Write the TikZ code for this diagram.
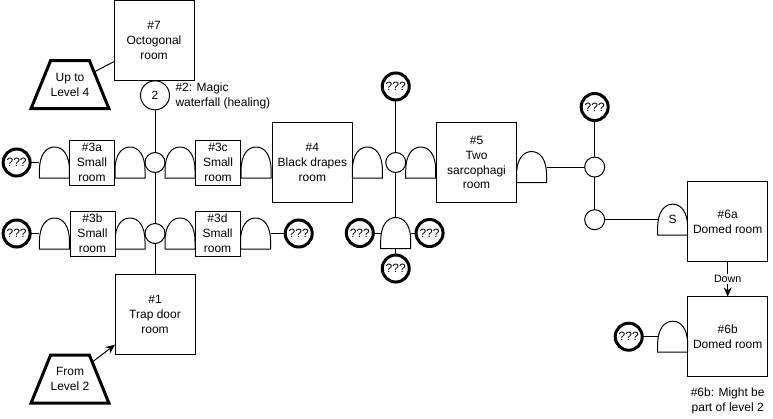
\documentclass[tikz,border=0pt]{standalone}
\usepackage{fontspec}
\setmainfont{Liberation Sans}
\usetikzlibrary{arrows.meta, positioning, shapes.geometric, calc}

\begin{document}
\begin{tikzpicture}[
    x=0.75pt, y=-0.75pt,
    room/.style={rectangle, draw=black, line width=0.75pt, fill=white, minimum width=60pt, minimum height=60pt, inner sep=0pt, outer sep=0pt, align=center, font=\fontsize{9pt}{11.2pt}\selectfont},
    smallroom/.style={room, minimum width=33.75pt, minimum height=33.75pt},
    hub/.style={circle, draw=black, line width=0.75pt, fill=white, minimum size=15pt, inner sep=0pt, outer sep=0pt},
    fountain/.style={hub, minimum size=21.75pt, font=\fontsize{9pt}{11pt}\selectfont},
    unknown/.style={circle, draw=black, line width=2.25pt, fill=white, minimum size=20.25pt, inner sep=0pt, outer sep=0pt, font=\fontsize{9pt}{11pt}\selectfont},
    stairs/.style={trapezium, trapezium left angle=50, trapezium right angle=50, trapezium stretches body=true, draw=black, line width=2.25pt, minimum width=58pt, minimum height=36pt, inner sep=0pt, outer sep=0pt, align=center, font=\fontsize{9pt}{11.2pt}\selectfont},
    doorway/.style={rectangle, minimum width=22.5pt, minimum height=23.25pt, inner sep=0pt, outer sep=0pt, font=\fontsize{9pt}{11pt}\selectfont,
        append after command={\pgfextra{\draw[line width=0.75pt]
            (\tikzlastnode.south west) -- ($(\tikzlastnode.south west)!.25!(\tikzlastnode.north west)$)
            .. controls ($(\tikzlastnode.south west)!.75!(\tikzlastnode.north west)$) and ($(\tikzlastnode.north west)!.22!(\tikzlastnode.north east)$) .. (\tikzlastnode.north)
            .. controls ($(\tikzlastnode.north west)!.78!(\tikzlastnode.north east)$) and ($(\tikzlastnode.south east)!.75!(\tikzlastnode.north east)$) .. ($(\tikzlastnode.south east)!.25!(\tikzlastnode.north east)$)
            -- (\tikzlastnode.south east) -- cycle;}}},
    note/.style={inner sep=0pt, outer sep=0pt, font=\fontsize{9pt}{11.2pt}\selectfont},
    link/.style={draw=black, line width=0.75pt},
    arrow/.style={-{Stealth[length=7pt, width=6pt]}, draw=black, line width=0.75pt}
]
    \useasboundingbox (0,0) rectangle (773,418);

    % West crossing (upper row)
    \node[hub] (hubA) at (155,162.5) {};
    \node[doorway, left=0pt of hubA] (door3aE) {};
    \node[smallroom, left=0.4pt of door3aE] (room3a) {\#3a\\Small\\room};
    \node[doorway, left=0pt of room3a] (door3aW) {};
    \node[unknown, left=7pt of door3aW] (what3a) {???};
    \node[doorway, right=0pt of hubA] (door3cW) {};
    \node[smallroom, right=0.4pt of door3cW] (room3c) {\#3c\\Small\\room};
    \node[doorway, right=0.4pt of room3c] (door3cE) {};

    % West crossing (lower row)
    \node[hub, below=38.25pt of hubA] (hubB) {};
    \node[doorway, left=0pt of hubB] (door3bE) {};
    \node[smallroom, left=0pt of door3bE] (room3b) {\#3b\\Small\\room};
    \node[doorway, left=0.4pt of room3b] (door3bW) {};
    \node[unknown, left=7pt of door3bW] (what3b) {???};
    \node[doorway, right=0pt of hubB] (door3dW) {};
    \node[smallroom, right=0pt of door3dW] (room3d) {\#3d\\Small\\room};
    \node[doorway, right=0.4pt of room3d] (door3dE) {};
    \node[unknown, right=11pt of door3dE] (what3d) {???};

    % North and south of the crossing
    \node[fountain, above=32pt of hubA] (fall2) {2};
    \node[note, right=4.5pt of fall2, yshift=-0.75pt, align=left] (fall2txt) {\#2: Magic\\waterfall (healing)};
    \node[room, above=0pt of fall2, xshift=-0.75pt] (room7) {\#7\\Octogonal\\room};
    \node[room, below=23pt of hubB] (room1) {\#1\\Trap door\\room};
    \node[stairs] (upfour) at (70,84.5) {Up to\\Level 4};
    \node[stairs] (fromtwo) at (70,379) {From\\Level 2};

    % Middle
    \node[room, right=1pt of door3cE] (room4) {\#4\\Black drapes\\room};
    \node[doorway, right=0pt of room4] (door4E) {};
    \node[hub, right=2.5pt of door4E] (hubC) {};
    \node[doorway, right=0pt of hubC] (door5W) {};
    \node[room, right=0.6pt of door5W] (room5) {\#5\\Two\\sarcophagi\\room};
    \node[unknown, above=39.4pt of hubC] (whatN) {???};
    \node[doorway, below=33.75pt of hubC] (doorS) {};
    \node[unknown, left=5.6pt of doorS] (whatSW) {???};
    \node[unknown, right=4pt of doorS] (whatSE) {???};
    \node[unknown, below=4.9pt of doorS] (whatSS) {???};

    % East
    \node[doorway, right=0pt of room5, yshift=-3.4pt] (door5E) {};
    \node[hub, right=28.6pt of door5E] (hubD) {};
    \node[unknown, above=27.4pt of hubD] (whatE) {???};
    \node[hub, below=24.5pt of hubD] (hubE) {};
    \node[doorway, right=39.75pt of hubE] (doorSecret) {S};
    \node[room, right=0pt of doorSecret, yshift=-1.5pt] (room6a) {\#6a\\Domed room};
    \node[room, below=26.25pt of room6a] (room6b) {\#6b\\Domed room};
    \node[doorway, left=0pt of room6b] (door6b) {};
    \node[unknown, left=11.6pt of door6b] (what6b) {???};
    \node[note, below=8pt of room6b, align=center] (room6btxt) {\#6b: Might be\\part of level 2};

    % Connections
    \draw[link] (fall2) -- (hubA);
    \draw[link] (hubA) -- (hubB);
    \draw[link] (hubB) -- (room1);
    \draw[link] (upfour) -- (room7);
    \draw[arrow] (fromtwo) -- (room1);
    \draw[link] (what3a) -- (door3aW);
    \draw[link] (what3b) -- (door3bW);
    \draw[link] (door3dE) -- (what3d);
    \draw[link] (whatN) -- (hubC);
    \draw[link] (hubC) -- (doorS);
    \draw[link] (whatSW) -- (doorS);
    \draw[link] (doorS) -- (whatSE);
    \draw[link] (doorS) -- (whatSS);
    \draw[link] (door5E) -- (hubD);
    \draw[link] (whatE) -- (hubD);
    \draw[link] (hubD) -- (hubE);
    \draw[link] (hubE) -- (doorSecret);
    \draw[link] (what6b) -- (door6b);
    \draw[arrow] (room6a) -- node[fill=white, inner sep=1pt, font=\fontsize{8pt}{9pt}\selectfont] (downtxt) {Down} (room6b);
\end{tikzpicture}
\end{document}
